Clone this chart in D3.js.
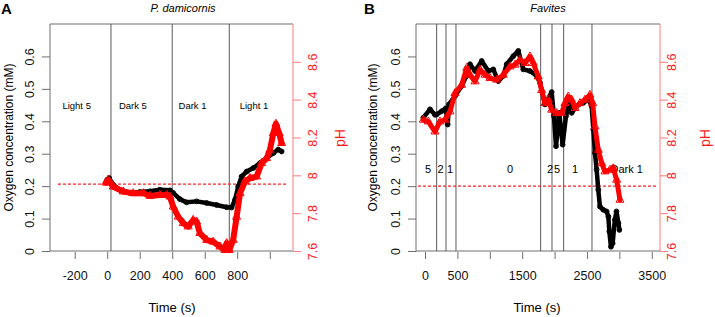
<!DOCTYPE html>
<html>
<head>
<meta charset="utf-8">
<script src="https://cdn.jsdelivr.net/npm/d3@7"></script>
<style>
  body { margin: 0; background: #fff; }
  svg { display: block; font-family: 'Liberation Sans', Arial, sans-serif; }
</style>
</head>
<body>
<div id="chart"></div>
<script>
// Panel A: P. damicornis -- oxygen (mM) and pH over time (s)
var timeA_o2 = [0, 12, 37, 78, 140, 201, 263, 324, 386, 406, 447, 488, 550, 612, 673, 735, 765, 786, 806, 827, 858, 899, 940, 981, 1022, 1052, 1073]
var o2A = [0.22, 0.225, 0.204, 0.189, 0.179, 0.182, 0.184, 0.189, 0.187, 0.179, 0.16, 0.15, 0.153, 0.148, 0.142, 0.135, 0.134, 0.158, 0.199, 0.23, 0.245, 0.256, 0.271, 0.287, 0.302, 0.313, 0.307]
var timeA_ph = [-8, 6, 37, 99, 160, 222, 263, 324, 366, 386, 406, 437, 468, 498, 529, 550, 570, 612, 652, 694, 724, 735, 751, 775, 796, 817, 847, 878, 919, 950, 981, 1001, 1022, 1038, 1058, 1073]
var phA = [7.961, 7.976, 7.94, 7.914, 7.905, 7.905, 7.891, 7.896, 7.896, 7.887, 7.834, 7.781, 7.747, 7.729, 7.764, 7.755, 7.694, 7.658, 7.649, 7.623, 7.605, 7.641, 7.605, 7.658, 7.78, 7.905, 7.967, 7.985, 7.993, 8.064, 8.09, 8.134, 8.223, 8.272, 8.223, 8.17]
var phaseLinesA = [23, 400, 751]
var phaseNamesA = ['Light 5', 'Dark 5', 'Dark 1', 'Light 1']
var phaseTimesA = [-188, 158, 525, 903]
var xTicksA = [-200, 0, 200, 400, 600, 800, 1000]
var xLabelsA = [-200, 0, 200, 400, 600, 800]

// Panel B: Favites
var timeB_o2 = [-26, 77, 154, 180, 258, 320, 350, 370, 463, 566, 640, 694, 772, 875, 977, 1054, 1131, 1208, 1261, 1363, 1440, 1517, 1620, 1724, 1775, 1852, 1955, 1990, 2022, 2073, 2124, 2176, 2227, 2263, 2341, 2443, 2520, 2572, 2598, 2623, 2649, 2674, 2700, 2752, 2803, 2830, 2845, 2870, 2896, 2930, 2955, 2985, 3000]
var o2B = [0.411, 0.437, 0.42, 0.421, 0.431, 0.44, 0.39, 0.452, 0.478, 0.509, 0.54, 0.576, 0.555, 0.586, 0.555, 0.56, 0.524, 0.54, 0.576, 0.601, 0.617, 0.56, 0.555, 0.54, 0.519, 0.452, 0.49, 0.416, 0.323, 0.426, 0.328, 0.416, 0.457, 0.426, 0.447, 0.457, 0.467, 0.447, 0.375, 0.302, 0.251, 0.189, 0.137, 0.127, 0.122, 0.106, 0.06, 0.013, 0.024, 0.096, 0.122, 0.086, 0.065]
var timeB_ph = [-26, 51, 154, 231, 309, 386, 463, 566, 644, 694, 772, 849, 926, 1003, 1106, 1208, 1312, 1389, 1466, 1543, 1620, 1672, 1748, 1800, 1852, 1903, 1955, 2032, 2109, 2160, 2211, 2263, 2315, 2392, 2469, 2546, 2588, 2623, 2675, 2727, 2778, 2855, 2906, 2958, 3009]
var phB = [8.293, 8.284, 8.231, 8.284, 8.293, 8.337, 8.434, 8.478, 8.567, 8.531, 8.496, 8.558, 8.531, 8.514, 8.505, 8.531, 8.575, 8.584, 8.611, 8.593, 8.628, 8.593, 8.522, 8.45, 8.381, 8.399, 8.346, 8.328, 8.328, 8.381, 8.416, 8.399, 8.355, 8.381, 8.399, 8.425, 8.381, 8.258, 8.134, 8.064, 8.02, 8.029, 8.037, 7.976, 7.87]
var phaseLinesB = [180, 324, 478, 1785, 1960, 2140, 2577]
var phaseNamesB = ['5', '2', '1', '0', '2', '5', '1', 'Dark 1']
var phaseTimesB = [46, 242, 386, 1312, 1929, 2037, 2315, 3113]
var xTicksB = [0, 500, 1000, 1500, 2000, 2500, 3000, 3500]
var xLabelsB = [0, 500, 1500, 2500, 3500]

var o2Ticks = [0, 0.1, 0.2, 0.3, 0.4, 0.5, 0.6]
var phTicks = [7.6, 7.8, 8, 8.2, 8.4, 8.6]

var svg = d3.select('#chart').append('svg').attr('width', 715).attr('height', 317)

var plotTop = 24, plotBottom = 251
var yO = d3.scaleLinear().domain([0, 0.7]).range([plotBottom, plotTop])
var yPH = d3.scaleLinear().domain([7.6, 8.8]).range([plotBottom, plotTop])

function panel(opt) {
  var x = opt.x
  var x0 = x.range()[0], x1 = x.range()[1]
  var g = svg.append('g')

  // frame (right side is the red pH axis)
  g.append('path')
    .attr('d', `M${x1},${plotTop}H${x0}V${plotBottom}H${x1}`)
    .attr('fill', 'none').attr('stroke', '#6e6e6e')

  // phase separators
  g.selectAll('.phase')
    .data(opt.lines)
    .enter()
    .append('line')
    .attr('x1', d => x(d)).attr('x2', d => x(d))
    .attr('y1', plotTop).attr('y2', plotBottom)
    .attr('stroke', '#5a5a5a')

  g.selectAll('.phase-name')
    .data(opt.names)
    .enter()
    .append('text')
    .attr('x', (d, i) => x(opt.nameTimes[i]))
    .attr('y', yO(opt.nameLevel))
    .attr('dy', '0.35em')
    .attr('text-anchor', 'middle')
    .style('font-size', opt.nameSize + 'px')
    .text(d => d)

  // left axis
  var ax = g.append('g')
    .attr('transform', `translate(${x0},0)`)
    .call(d3.axisLeft(yO).tickValues(o2Ticks).tickSize(8).tickFormat(d => d === 0 ? '0' : d3.format('.1f')(d)))
  ax.select('.domain').remove()
  ax.selectAll('.tick line').attr('stroke', '#6e6e6e')
  ax.selectAll('.tick text')
    .attr('x', null).attr('dy', '0.35em')
    .attr('transform', 'translate(-20,0) rotate(-90)')
    .attr('text-anchor', 'middle')
    .attr('fill', '#111')
    .style('font-size', '12.5px')

  // right pH axis
  var ar = g.append('g')
    .attr('transform', `translate(${x1},0)`)
    .call(d3.axisRight(yPH).tickValues(phTicks).tickSize(8).tickFormat(d3.format('.1f')))
  ar.select('.domain').remove()
  ar.append('line').attr('y1', plotTop).attr('y2', plotBottom).attr('stroke', '#ff7a7a')
  ar.selectAll('.tick line').attr('stroke', '#ff7a7a')
  ar.selectAll('.tick text')
    .attr('x', null).attr('dy', '0.35em')
    .attr('transform', `translate(${opt.phLabelOffset},0) rotate(-90)`)
    .attr('text-anchor', 'middle')
    .attr('fill', '#ff1a1a')
    .style('font-size', '12.5px')
  ar.selectAll('.tick text').filter(d => d === 8).text('8')

  // bottom axis
  var axb = g.append('g')
    .attr('transform', `translate(0,${plotBottom + 1})`)
    .call(d3.axisBottom(x).tickValues(opt.xTicks).tickSize(7).tickFormat(d => opt.xLabels.indexOf(d) > -1 ? d : ''))
  axb.select('.domain').remove()
  axb.selectAll('.tick line').attr('stroke', '#6e6e6e')
  axb.selectAll('.tick text')
    .attr('y', 19).attr('fill', '#111')
    .style('font-size', '12.5px')
    .text(d => opt.xLabels.indexOf(d) > -1 ? (d < 0 ? '-' + Math.abs(d) : d) : '')

  // reference line
  g.append('line')
    .attr('x1', x(opt.refFrom)).attr('x2', x(opt.refTo))
    .attr('y1', yO(opt.ref)).attr('y2', yO(opt.ref))
    .attr('stroke', '#ff2020').attr('stroke-width', 1.2)
    .attr('stroke-dasharray', '3,2')

  // oxygen (black)
  var o2pts = opt.o2t.map((t, i) => [x(t), yO(opt.o2[i])])
  g.append('path')
    .attr('d', d3.line()(o2pts))
    .attr('fill', 'none').attr('stroke', '#000')
    .attr('stroke-width', 4.5).attr('stroke-linejoin', 'round').attr('stroke-linecap', 'round')
  g.selectAll('.o2pt')
    .data(o2pts)
    .enter()
    .append('circle')
    .attr('cx', d => d[0]).attr('cy', d => d[1]).attr('r', 2.4)
    .attr('fill', 'none').attr('stroke', '#000')

  // pH (red)
  var phpts = opt.pht.map((t, i) => [x(t), yPH(opt.ph[i])])
  g.append('path')
    .attr('d', d3.line()(phpts))
    .attr('fill', 'none').attr('stroke', '#ff0000')
    .attr('stroke-width', opt.phWidth).attr('stroke-linejoin', 'round').attr('stroke-linecap', 'round')
  g.selectAll('.phpt')
    .data(phpts)
    .enter()
    .append('path')
    .attr('transform', d => `translate(${d[0]},${d[1]})`)
    .attr('d', d3.symbol().type(d3.symbolTriangle).size(28))
    .attr('fill', 'none').attr('stroke', '#ff0000')

  // titles and axis titles
  g.append('text')
    .attr('x', opt.titleX).attr('y', 12)
    .attr('text-anchor', 'middle')
    .style('font-size', '11px').style('font-style', 'italic')
    .text(opt.title)
  g.append('text')
    .attr('x', opt.tagX).attr('y', 14)
    .style('font-size', '15px').style('font-weight', 'bold')
    .text(opt.tag)
  g.append('text')
    .attr('transform', `translate(${opt.o2LabelX},${(plotTop + plotBottom) / 2}) rotate(-90)`)
    .attr('dy', '0.35em')
    .attr('text-anchor', 'middle')
    .style('font-size', '12px')
    .text('Oxygen concentration (mM)')
  g.append('text')
    .attr('transform', `translate(${opt.phLabelX},138) rotate(-90)`)
    .attr('dy', '0.35em')
    .attr('text-anchor', 'middle')
    .attr('fill', '#ff1a1a')
    .style('font-size', '14px')
    .text('pH')
  g.append('text')
    .attr('x', opt.timeLabelX).attr('y', 312)
    .attr('text-anchor', 'middle')
    .style('font-size', '13px')
    .text('Time (s)')
}

panel({
  x: d3.scaleLinear().domain([-352, 1143]).range([50, 293]),
  lines: phaseLinesA, names: phaseNamesA, nameTimes: phaseTimesA, nameLevel: 0.449, nameSize: 9.5,
  xTicks: xTicksA, xLabels: xLabelsA,
  ref: 0.2065, refFrom: -303, refTo: 1106,
  o2t: timeA_o2, o2: o2A, pht: timeA_ph, ph: phA, phWidth: 6,
  title: 'P. damicornis', titleX: 183, tag: 'A', tagX: 1,
  o2LabelX: 9, phLabelX: 340, phLabelOffset: 20, timeLabelX: 172,
})

panel({
  x: d3.scaleLinear().domain([-139, 3627]).range([416, 660]),
  lines: phaseLinesB, names: phaseNamesB, nameTimes: phaseTimesB, nameLevel: 0.251, nameSize: 11,
  xTicks: xTicksB, xLabels: xLabelsB,
  ref: 0.2, refFrom: -108, refTo: 3580,
  o2t: timeB_o2, o2: o2B, pht: timeB_ph, ph: phB, phWidth: 5,
  title: 'Favites', titleX: 548, tag: 'B', tagX: 364,
  o2LabelX: 373, phLabelX: 705, phLabelOffset: 12, timeLabelX: 537,
})
</script>
</body>
</html>
